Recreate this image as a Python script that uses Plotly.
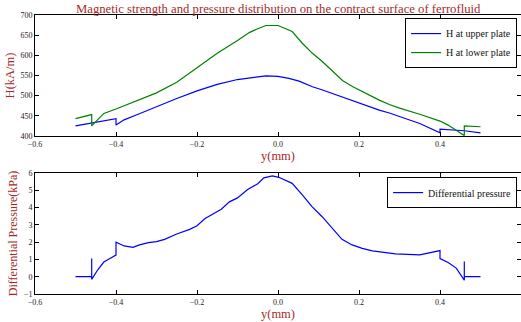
import plotly.graph_objects as go
from plotly.subplots import make_subplots

# ---- data ----
x_upper = [-0.5, -0.4, -0.4, -0.38, -0.35, -0.3, -0.25, -0.2, -0.15, -0.1, -0.05, -0.03, 0.0,
           0.027, 0.052, 0.085, 0.11, 0.144, 0.177, 0.2, 0.225, 0.25, 0.275, 0.3, 0.35, 0.4, 0.4, 0.46, 0.5]
h_upper = [425, 443, 427, 440, 452, 473, 493, 512, 528, 540, 547, 549, 548,
           543, 536, 522, 514, 502, 489, 481, 473, 464, 457, 448, 431, 408, 417, 413, 408]

x_lower = [-0.5, -0.46, -0.46, -0.45, -0.44, -0.43, -0.4, -0.35, -0.3, -0.25, -0.2, -0.15, -0.1, -0.07,
           -0.05, -0.03, 0.0, 0.035, 0.06, 0.085, 0.11, 0.136, 0.16, 0.185, 0.2, 0.225, 0.25, 0.275,
           0.3, 0.35, 0.4, 0.42, 0.44, 0.46, 0.46, 0.5]
h_lower = [443, 453, 425, 435, 447, 456, 467, 486, 507, 533, 570, 605, 637, 657,
           666, 674, 674, 659, 630, 605, 584, 559, 537, 522, 514, 502, 489, 478,
           469, 454, 437, 427, 415, 401, 425, 423]

x_press = [-0.5, -0.46, -0.46, -0.46, -0.445, -0.43, -0.415, -0.4, -0.4, -0.38, -0.358, -0.342, -0.32,
           -0.3, -0.28, -0.25, -0.218, -0.2, -0.18, -0.16, -0.14, -0.12, -0.1, -0.075, -0.05, -0.035,
           -0.014, 0.002, 0.015, 0.035, 0.06, 0.084, 0.109, 0.134, 0.158, 0.183, 0.208, 0.233, 0.266,
           0.29, 0.35, 0.4, 0.4, 0.42, 0.44, 0.46, 0.46, 0.46, 0.5]
p_diff = [0, 0, 1.05, -0.15, 0.4, 0.85, 1.05, 1.25, 2.0, 1.78, 1.7, 1.84, 1.97,
          2.03, 2.16, 2.47, 2.74, 2.95, 3.37, 3.66, 3.9, 4.33, 4.56, 5.04, 5.38, 5.72,
          5.83, 5.75, 5.6, 5.4, 4.73, 4.05, 3.47, 2.8, 2.16, 1.84, 1.64, 1.5, 1.39,
          1.32, 1.26, 1.51, 1.05, 0.82, 0.5, -0.2, 0.88, 0, 0]

x_ticks = [-0.6, -0.4, -0.2, 0.0, 0.2, 0.4, 0.6]
x_ticklabels = ["\u22120.6", "\u22120.4", "\u22120.2", "0.0", "0.2", "0.4", "0.6"]
h_ticks = [400, 450, 500, 550, 600, 650, 700]
p_ticks = [-1, 0, 1, 2, 3, 4, 5, 6]

title_text = "Magnetic strength and pressure distribution on the contract surface of ferrofluid"

# ---- figure ----
SERIF = "Liberation Serif, Times New Roman, serif"
RED = "#a52a2a"

fig = make_subplots(rows=2, cols=1)

fig.add_trace(go.Scatter(x=x_upper, y=h_upper, mode="lines", name="H at upper plate",
                         line=dict(color="#0000ff", width=1.2), legend="legend"), row=1, col=1)
fig.add_trace(go.Scatter(x=x_lower, y=h_lower, mode="lines", name="H at lower plate",
                         line=dict(color="#008000", width=1.2), legend="legend"), row=1, col=1)
fig.add_trace(go.Scatter(x=x_press, y=p_diff, mode="lines", name="Differential pressure",
                         line=dict(color="#0000ff", width=1.2), legend="legend2"), row=2, col=1)

axis_common = dict(showline=True, linecolor="black", linewidth=1, mirror="ticks",
                   ticks="inside", ticklen=4, tickcolor="black", showgrid=False, zeroline=False,
                   tickfont=dict(family=SERIF, size=8, color="#222"))

for r in (1, 2):
    fig.update_xaxes(range=[-0.6, 0.6], tickvals=x_ticks, ticktext=x_ticklabels,
                     title=dict(text="y(mm)", font=dict(family=SERIF, size=12.5, color=RED), standoff=2),
                     row=r, col=1, **axis_common)

fig.update_yaxes(range=[400, 700], tickvals=h_ticks,
                 title=dict(text="H(kA/m)", font=dict(family=SERIF, size=12.5, color=RED), standoff=3),
                 row=1, col=1, **axis_common)
fig.update_yaxes(range=[-1, 6], tickvals=p_ticks,
                 title=dict(text="Differential Pressure(kPa)", font=dict(family=SERIF, size=12, color=RED), standoff=3),
                 row=2, col=1, **axis_common)

fig.update_layout(
    width=521, height=322,
    margin=dict(l=35, r=0, t=15, b=28),
    paper_bgcolor="white", plot_bgcolor="white",
    xaxis=dict(domain=[0, 1]), xaxis2=dict(domain=[0, 1]),
    yaxis=dict(domain=[0.5663, 1.0]), yaxis2=dict(domain=[0.0, 0.4337]),
    title=dict(text=title_text, x=0.534, xanchor="center", y=0.987, yanchor="top",
               font=dict(family=SERIF, size=12.7, color=RED)),
    legend=dict(x=0.992, y=0.989, xanchor="right", yanchor="top",
                bordercolor="black", borderwidth=1, bgcolor="white",
                font=dict(family=SERIF, size=10, color="#111"), tracegroupgap=0, itemwidth=30),
    legend2=dict(x=0.992, y=0.419, xanchor="right", yanchor="top",
                 bordercolor="black", borderwidth=1, bgcolor="white",
                 font=dict(family=SERIF, size=10, color="#111"), itemwidth=30),
    showlegend=True,
)

fig.write_html("out.html")
